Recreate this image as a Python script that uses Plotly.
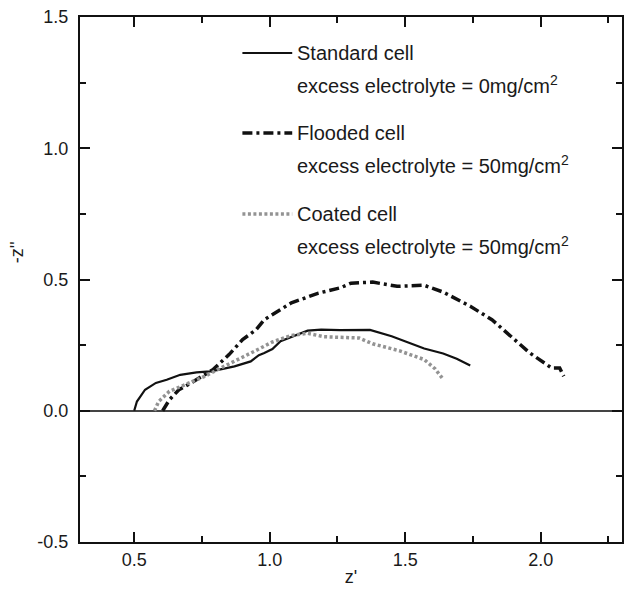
import plotly.graph_objects as go

# ---- data ----
std_x = [0.50, 0.51, 0.54, 0.58, 0.62, 0.67, 0.73, 0.78, 0.81, 0.87, 0.93, 0.96, 0.98,
         1.01, 1.04, 1.08, 1.14, 1.19, 1.26, 1.37, 1.45, 1.57, 1.64, 1.69, 1.74]
std_y = [0.0, 0.035, 0.08, 0.106, 0.118, 0.137, 0.146, 0.15, 0.156, 0.169, 0.188, 0.212, 0.22,
         0.235, 0.265, 0.282, 0.305, 0.309, 0.307, 0.308, 0.284, 0.237, 0.218, 0.198, 0.172]

fld_x = [0.605, 0.63, 0.665, 0.70, 0.79, 0.85, 0.90, 0.95, 0.98, 1.08, 1.18, 1.26, 1.30,
         1.38, 1.47, 1.57, 1.64, 1.74, 1.82, 1.89, 1.96, 2.04, 2.07, 2.085]
fld_y = [0.0, 0.042, 0.08, 0.10, 0.156, 0.214, 0.271, 0.309, 0.347, 0.411, 0.448, 0.468, 0.486,
         0.49, 0.474, 0.478, 0.452, 0.398, 0.347, 0.284, 0.22, 0.163, 0.163, 0.131]

coa_x = [0.575, 0.59, 0.63, 0.70, 0.76, 0.82, 0.885, 0.95, 1.01, 1.08, 1.14, 1.20, 1.33,
         1.38, 1.48, 1.57, 1.61, 1.64]
coa_y = [0.0, 0.035, 0.074, 0.106, 0.131, 0.163, 0.195, 0.23, 0.262, 0.287, 0.295, 0.282, 0.277,
         0.255, 0.228, 0.195, 0.16, 0.12]

legend_titles = ["Standard cell", "Flooded cell", "Coated cell"]
legend_sub = ["excess electrolyte = 0mg/cm<sup>2</sup>",
              "excess electrolyte = 50mg/cm<sup>2</sup>",
              "excess electrolyte = 50mg/cm<sup>2</sup>"]

x_range = [0.3, 2.3]
y_range = [-0.5, 1.5]
x_tickvals = [0.5, 1.0, 1.5, 2.0]
x_ticktext = ["0.5", "1.0", "1.5", "2.0"]
y_tickvals = [-0.5, 0.0, 0.5, 1.0, 1.5]
y_ticktext = ["-0.5", "0.0", "0.5", "1.0", "1.5"]
x_title = "z'"
y_title = "-z''"

# ---- styles ----
styles = [
    dict(color="#111111", width=2.2, dash="solid"),
    dict(color="#111111", width=3.5, dash="10px,4px,3px,4px"),
    dict(color="#939393", width=3.5, dash="3px,2.5px"),
]

fig = go.Figure()
for xs, ys, name, st in zip([std_x, fld_x, coa_x], [std_y, fld_y, coa_y], legend_titles, styles):
    fig.add_trace(go.Scatter(x=xs, y=ys, mode="lines", name=name, line=st, showlegend=False))

W, H = 625, 592
ml, mr, mt, mb = 80, 1, 17, 50
pw, ph = W - ml - mr, H - mt - mb

def px2paper_x(px):
    return (px - ml) / pw

def px2paper_y(py):
    return (H - mb - py) / ph

font = "Liberation Sans, Arial, Helvetica, sans-serif"
txtcol = "#1a1a1a"

title_y = [53, 133, 214]
sub_y = [85, 164, 245]
shapes = []
annotations = []
for i in range(3):
    st = styles[i]
    shapes.append(dict(type="line", xref="paper", yref="paper",
                       x0=px2paper_x(243), x1=px2paper_x(293),
                       y0=px2paper_y(title_y[i]), y1=px2paper_y(title_y[i]),
                       line=st))
    annotations.append(dict(text=legend_titles[i], xref="paper", yref="paper",
                            x=px2paper_x(296), y=px2paper_y(title_y[i]),
                            xanchor="left", yanchor="middle", showarrow=False,
                            font=dict(size=20, color=txtcol, family=font)))
    annotations.append(dict(text=legend_sub[i], xref="paper", yref="paper",
                            x=px2paper_x(296), y=px2paper_y(sub_y[i]),
                            xanchor="left", yanchor="middle", showarrow=False,
                            font=dict(size=20, color=txtcol, family=font)))

# y-axis title (rotated)
annotations.append(dict(text=y_title, xref="paper", yref="paper",
                        x=px2paper_x(17), y=px2paper_y(252),
                        xanchor="center", yanchor="middle", textangle=-90,
                        showarrow=False, font=dict(size=18, color=txtcol, family=font)))

axis_common = dict(
    showline=True, linecolor="#111111", linewidth=2, mirror="ticks",
    ticks="inside", ticklen=10, tickwidth=2, tickcolor="#111111",
    showgrid=False,
    tickfont=dict(size=18, color=txtcol, family=font),
    minor=dict(ticks="inside", ticklen=6, tickwidth=2, tickcolor="#111111", dtick=0.25),
)

fig.update_layout(
    width=W, height=H,
    margin=dict(l=ml, r=mr, t=mt, b=mb, pad=0),
    paper_bgcolor="white", plot_bgcolor="white",
    shapes=shapes, annotations=annotations,
    xaxis=dict(range=x_range, tickmode="array", tickvals=x_tickvals, ticktext=x_ticktext,
               zeroline=False,
               title=dict(text=x_title, font=dict(size=18, color=txtcol, family=font), standoff=2),
               **axis_common),
    yaxis=dict(range=y_range, tickmode="array", tickvals=y_tickvals, ticktext=y_ticktext,
               ticklabelstandoff=6,
               zeroline=True, zerolinecolor="#444444", zerolinewidth=1.5,
               **axis_common),
)

fig.write_html("out.html")
